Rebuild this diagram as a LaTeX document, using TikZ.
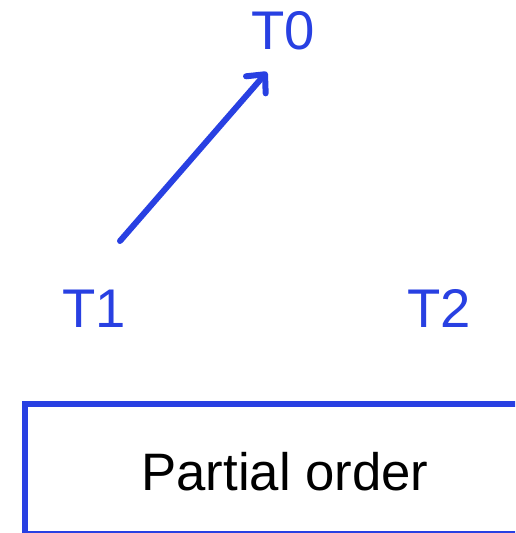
\documentclass[tikz,border=0pt]{standalone}
\usepackage{fontspec}
\setmainfont{Liberation Sans}
\usepackage{tikz}
\usetikzlibrary{arrows.meta}
\usepackage{xcolor}
\definecolor{ordblue}{RGB}{40,64,226}

\begin{document}
\begin{tikzpicture}[x=0.02cm, y=-0.02cm,
    tnode/.style={text=ordblue, font=\fontsize{31}{36}\selectfont, inner sep=0pt, anchor=base},
    orderarrow/.style={draw=ordblue, line width=0.12cm, line cap=round, -{Straight Barb[length=0.28cm, width=0.52cm, round]}}]
            \useasboundingbox (0,0) rectangle (515,533);
            \clip (0,0) rectangle (515,533);
            \node[tnode] (t0) at (283,50) {T0};
            \node[tnode] (t1) at (94,327) {T1};
            \node[tnode] (t2) at (439,327) {T2};
            \coordinate (t1out) at (120,241);
            \coordinate (t0in) at (267,72);
            \draw[orderarrow] (t1out) -- (t0in);
            \draw[draw=ordblue, line width=0.12cm] (25,404) rectangle (545,534);
            \node[font=\fontsize{30}{36}\selectfont, inner sep=0pt, anchor=base] (label) at (285,490) {Partial order};
        \end{tikzpicture}
\end{document}
